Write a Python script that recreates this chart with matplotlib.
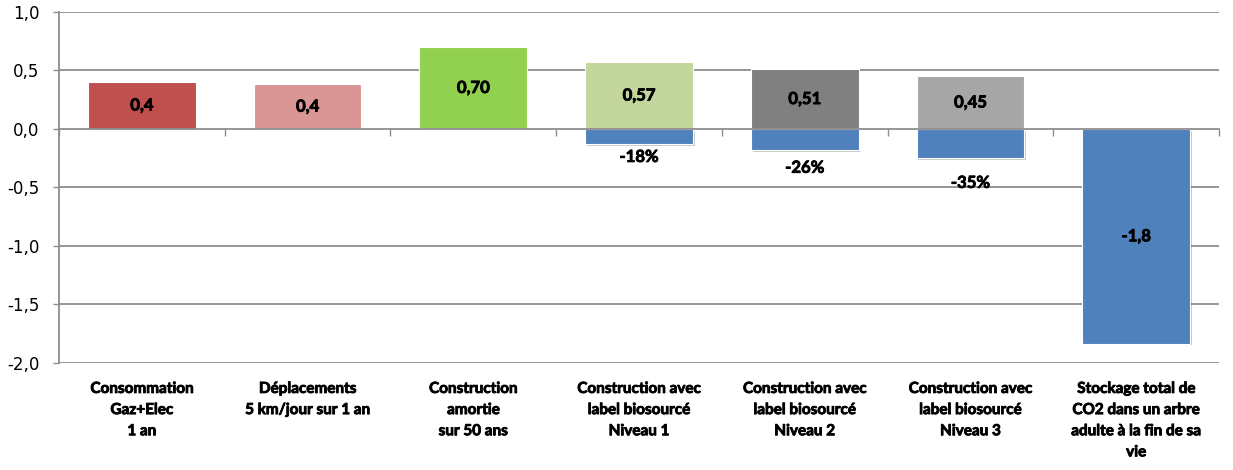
import matplotlib.pyplot as plt
from matplotlib import patheffects
from matplotlib.transforms import blended_transform_factory

# Tonnes of CO2 per item
categories = [
    "Consommation\nGaz+Elec\n1 an",
    "Déplacements\n5 km/jour sur 1 an",
    "Construction\namortie\nsur 50 ans",
    "Construction avec\nlabel biosourcé\nNiveau 1",
    "Construction avec\nlabel biosourcé\nNiveau 2",
    "Construction avec\nlabel biosourcé\nNiveau 3",
    "Stockage total de\nCO2 dans un arbre\nadulte à la fin de sa\nvie",
]
values = [0.40, 0.38, 0.70, 0.57, 0.51, 0.45, -1.84]
decimals = [1, 1, 2, 2, 2, 2, 1]
bar_colors = ["#c0504d", "#d99694", "#92d050", "#c3d69b", "#808080", "#a6a6a6", "#4f81bd"]

# biosourced savings, drawn under categories 3..5
saving_idx = [3, 4, 5]
saving_values = [-0.13, -0.18, -0.25]
saving_pct = [-18, -26, -35]

y_ticks = [1.0, 0.5, 0.0, -0.5, -1.0, -1.5, -2.0]

GRID = "#8e8e8e"
BLUE = "#4f81bd"
BOLD = dict(family=["Lato", "DejaVu Sans"], fontweight="bold", color="black")

fig = plt.figure(figsize=(12.33, 4.70), dpi=100)
ax = fig.add_axes([59 / 1233, 1 - 362.5 / 470, 1160 / 1233, 350.5 / 470])

x = list(range(len(categories)))
shadow = [patheffects.SimplePatchShadow(offset=(1.2, -1.2), alpha=0.25), patheffects.Normal()]

bars = ax.bar(x, values, width=0.65, color=bar_colors, edgecolor="white", linewidth=0.8, zorder=3)
bars[-1].set_path_effects(shadow)
sbars = ax.bar(saving_idx, saving_values, width=0.65, color=BLUE, edgecolor="white", linewidth=0.8, zorder=3)
for b in sbars:
    b.set_path_effects(shadow)

# thin stroke thickens the glyphs a little
heavy = [patheffects.withStroke(linewidth=0.6, foreground="black")]

for i, v in enumerate(values):
    txt = f"{v:.{decimals[i]}f}".replace(".", ",")
    ax.text(i, v / 2, txt, ha="center", va="center", fontsize=12, zorder=6,
            path_effects=heavy, **BOLD)

for i, v, p in zip(saving_idx, saving_values, saving_pct):
    ax.text(i, v * 1.85, f"{p}%", ha="center", va="center", fontsize=12, zorder=6,
            path_effects=heavy, **BOLD)

ax.set_xlim(-0.5, len(categories) - 0.5)
ax.set_ylim(-2.0, 1.0)

ax.set_yticks(y_ticks)
ax.set_yticklabels([f"{t:.1f}".replace(".", ",") for t in y_ticks],
                   fontsize=12, family="DejaVu Sans")
for t in y_ticks:
    if t != 0:
        ax.axhline(t, color=GRID, lw=1.3, zorder=1)

ax.set_xticks([k - 0.5 for k in range(len(categories) + 1)])
ax.set_xticklabels([])
ax.tick_params(axis="x", direction="out", length=5, width=1, color=GRID)
ax.tick_params(axis="y", direction="out", length=4, width=1, color=GRID, pad=10)

for side in ["top", "right"]:
    ax.spines[side].set_visible(False)
ax.spines["bottom"].set_position(("data", 0))
for side in ["bottom", "left"]:
    ax.spines[side].set_color(GRID)
    ax.spines[side].set_linewidth(1.3)
    ax.spines[side].set_zorder(5)

trans = blended_transform_factory(ax.transData, ax.transAxes)
for i, name in enumerate(categories):
    ax.annotate(name, xy=(i, 0), xycoords=trans, xytext=(0, -14), textcoords="offset points",
                ha="center", va="top", fontsize=11, linespacing=1.65,
                path_effects=heavy, **BOLD)

fig.savefig("out.png", dpi=100)
